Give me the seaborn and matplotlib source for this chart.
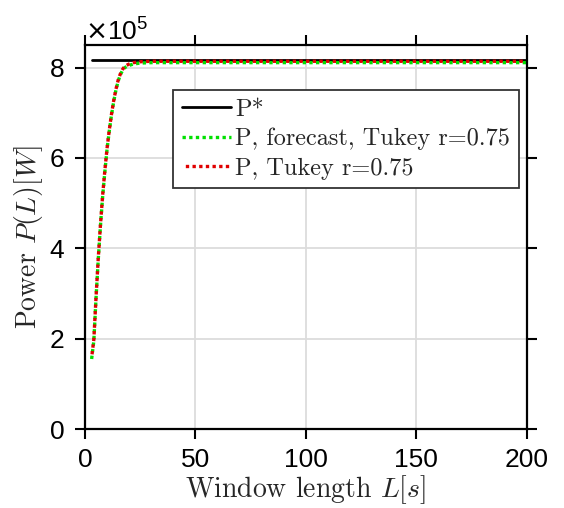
import seaborn as sns
import pandas as pd
import matplotlib
matplotlib.use("Agg")
import matplotlib.pyplot as plt
from matplotlib.ticker import ScalarFormatter

# window lengths [s] and power values
window_len = [3, 4, 5, 6, 7, 8, 9, 10, 11, 12, 13, 14, 15, 16, 17, 18, 20, 22, 25, 30, 50, 100, 150, 200]
p_forecast = [1.55e5, 1.95e5, 2.90e5, 3.75e5, 4.50e5, 5.15e5, 5.70e5, 6.20e5, 6.60e5, 6.95e5, 7.25e5, 7.50e5,
              7.70e5, 7.84e5, 7.94e5, 8.00e5, 8.05e5, 8.08e5, 8.10e5, 8.11e5, 8.11e5, 8.11e5, 8.11e5, 8.11e5]
p_tukey = [1.58e5, 1.98e5, 2.92e5, 3.78e5, 4.52e5, 5.18e5, 5.73e5, 6.22e5, 6.62e5, 6.97e5, 7.27e5, 7.52e5,
           7.72e5, 7.86e5, 7.96e5, 8.03e5, 8.08e5, 8.11e5, 8.13e5, 8.14e5, 8.14e5, 8.14e5, 8.14e5, 8.14e5]
p_star = [8.16e5] * len(window_len)

labels = ["P*", "P, forecast, Tukey r=0.75", "P, Tukey r=0.75"]

df = pd.DataFrame({"L": window_len, "pstar": p_star, "pfc": p_forecast, "ptk": p_tukey})

sns.set_theme(style="ticks")
plt.rcParams["font.family"] = ["Liberation Sans", "DejaVu Sans"]
plt.rcParams["mathtext.fontset"] = "cm"

fig = plt.figure(figsize=(5.64, 5.08), dpi=100)
ax = fig.add_axes([0.1507, 0.1555, 0.7833, 0.7559])

sns.lineplot(ax=ax, data=df, x="L", y="pstar", color="black", linewidth=2.0, label=labels[0])
sns.lineplot(ax=ax, data=df, x="L", y="pfc", color="#00e000", linewidth=2.4, label=labels[1])
sns.lineplot(ax=ax, data=df, x="L", y="ptk", color="#e00000", linewidth=2.4, label=labels[2])
ax.lines[1].set_linestyle((0, (1, 1)))
ax.lines[2].set_linestyle((1, (1, 1)))

ax.set_xlim(0, 200)
ax.set_ylim(0, 8.5e5)
ax.set_xticks([0, 50, 100, 150, 200])
ax.set_yticks([0, 2e5, 4e5, 6e5, 8e5])
fmt = ScalarFormatter(useMathText=True)
fmt.set_powerlimits((5, 5))
ax.yaxis.set_major_formatter(fmt)
ax.yaxis.get_offset_text().set_fontsize(19)
ax.yaxis.get_offset_text().set_math_fontfamily("dejavusans")

ax.grid(True, color="#dcdcdc", linewidth=1.3)
ax.tick_params(axis="both", which="both", direction="out", length=7.5, width=1.5,
               labelsize=19, top=True, right=True, colors="black")
ax.tick_params(axis="x", pad=6)
ax.tick_params(axis="y", pad=7)
for s in ax.spines.values():
    s.set_linewidth(1.6)
    s.set_color("black")

ax.set_xlabel(r"Window length $L[s]$", fontsize=20, family="cmr10", labelpad=1)
ax.set_ylabel(r"Power $P(L)[W]$", fontsize=20, family="cmr10", labelpad=3)

leg = ax.legend(loc="upper right", bbox_to_anchor=(0.982, 0.883), frameon=True,
                prop={"family": "cmr10", "size": 17.5},
                fancybox=False, edgecolor="#333333", framealpha=1, handlelength=2.0,
                handletextpad=0.2, borderpad=0.35, labelspacing=0.3, borderaxespad=0)
leg.get_frame().set_linewidth(1.3)

fig.savefig("out.png", dpi=100)
